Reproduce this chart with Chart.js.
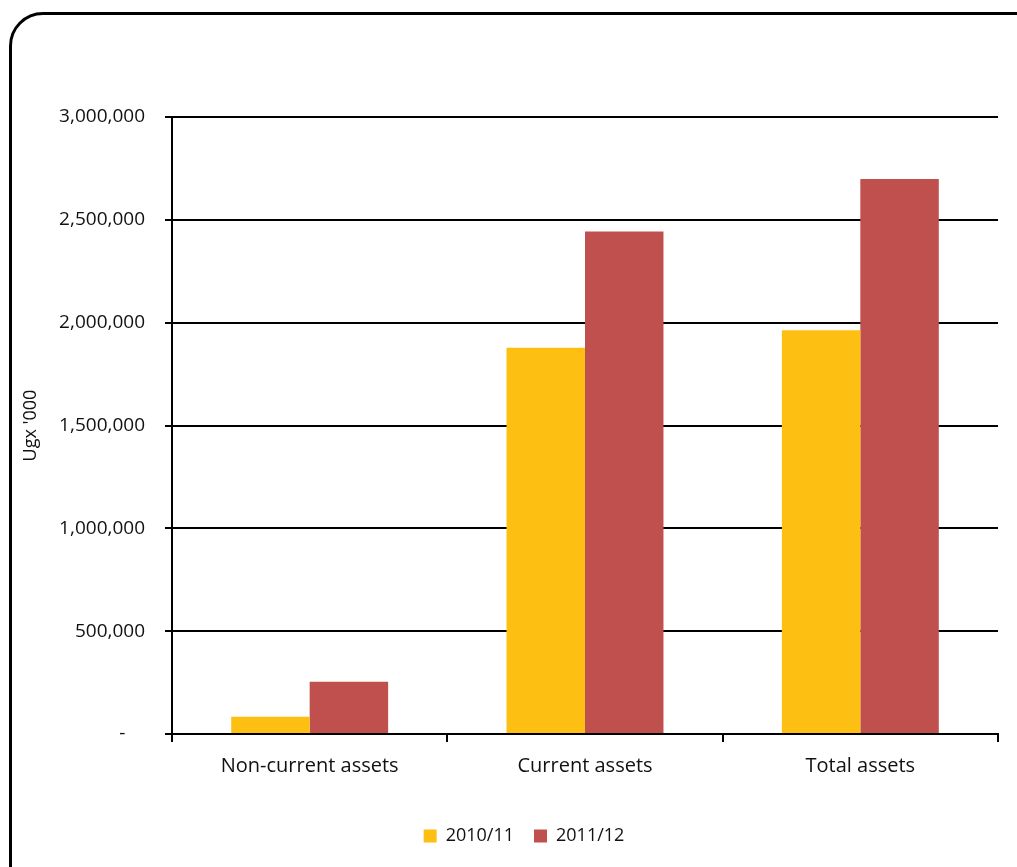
<!DOCTYPE html>
<html>
<head>
<meta charset="utf-8">
<script src="https://cdn.jsdelivr.net/npm/chart.js"></script>
<style>
  html, body { margin: 0; padding: 0; background: #fff; overflow: hidden; }
  #wrap { position: relative; width: 1017px; height: 867px; }
  #frame {
    position: absolute; left: 9px; top: 12px; width: 1040px; height: 900px;
    border: 3px solid #000; border-radius: 34px; box-sizing: border-box;
  }
  #myChart { position: absolute; left: 0; top: 0; }
</style>
</head>
<body>
<div id="wrap">
  <div id="frame"></div>
  <canvas id="myChart" width="1017" height="867"></canvas>
</div>
<script>
  const categories = ['Non-current assets', 'Current assets', 'Total assets'];
  const seriesNames = ['2010/11', '2011/12'];
  const values2010 = [84000, 1878000, 1963000];
  const values2011 = [254000, 2443000, 2698000];
  const yTicks = [0, 500000, 1000000, 1500000, 2000000, 2500000, 3000000];

  const FONT = "'Open Sans', sans-serif";

  // nudge the legend a little right of the canvas centre
  const legendShift = {
    id: 'legendShift',
    afterLayout(chart) {
      const lg = chart.legend;
      if (lg) { lg.left += 15; lg.right += 15; }
    }
  };

  const ctx = document.getElementById('myChart').getContext('2d');
  const chart = new Chart(ctx, {
    type: 'bar',
    data: {
      labels: categories,
      datasets: [
        { label: seriesNames[0], data: values2010, backgroundColor: '#FCBF12' },
        { label: seriesNames[1], data: values2011, backgroundColor: '#C0504D' }
      ]
    },
    plugins: [legendShift],
    options: {
      responsive: false,
      animation: false,
      layout: { padding: { left: 20, right: 19, top: 117, bottom: 12 } },
      datasets: { bar: { categoryPercentage: 0.57, barPercentage: 1.0 } },
      plugins: {
        tooltip: { enabled: false },
        legend: {
          position: 'bottom',
          labels: {
            boxWidth: 13, boxHeight: 13, padding: 20,
            color: '#111', font: { family: FONT, size: 18 }
          }
        }
      },
      scales: {
        x: {
          offset: true,
          grid: { offset: true, drawOnChartArea: false, color: '#000', lineWidth: 2, tickLength: 8 },
          border: { color: '#000', width: 2 },
          ticks: { color: '#111', padding: 12, font: { family: FONT, size: 20 } },
          afterFit: (s) => { s.height = 73; }
        },
        y: {
          min: 0, max: 3000000,
          afterBuildTicks: (s) => { s.ticks = yTicks.map(v => ({ value: v })); },
          grid: { color: '#000', lineWidth: 2, tickLength: 7 },
          border: { color: '#000', width: 2 },
          ticks: {
            color: '#111', padding: 20, font: { family: FONT, size: 19 },
            callback: (v) => v === 0 ? '-    ' : v.toLocaleString('en-US')
          },
          title: { display: true, text: "Ugx '000", color: '#111', padding: 0, font: { family: FONT, size: 18 } },
          afterFit: (s) => { s.width = 152; }
        }
      }
    }
  });
</script>
</body>
</html>
